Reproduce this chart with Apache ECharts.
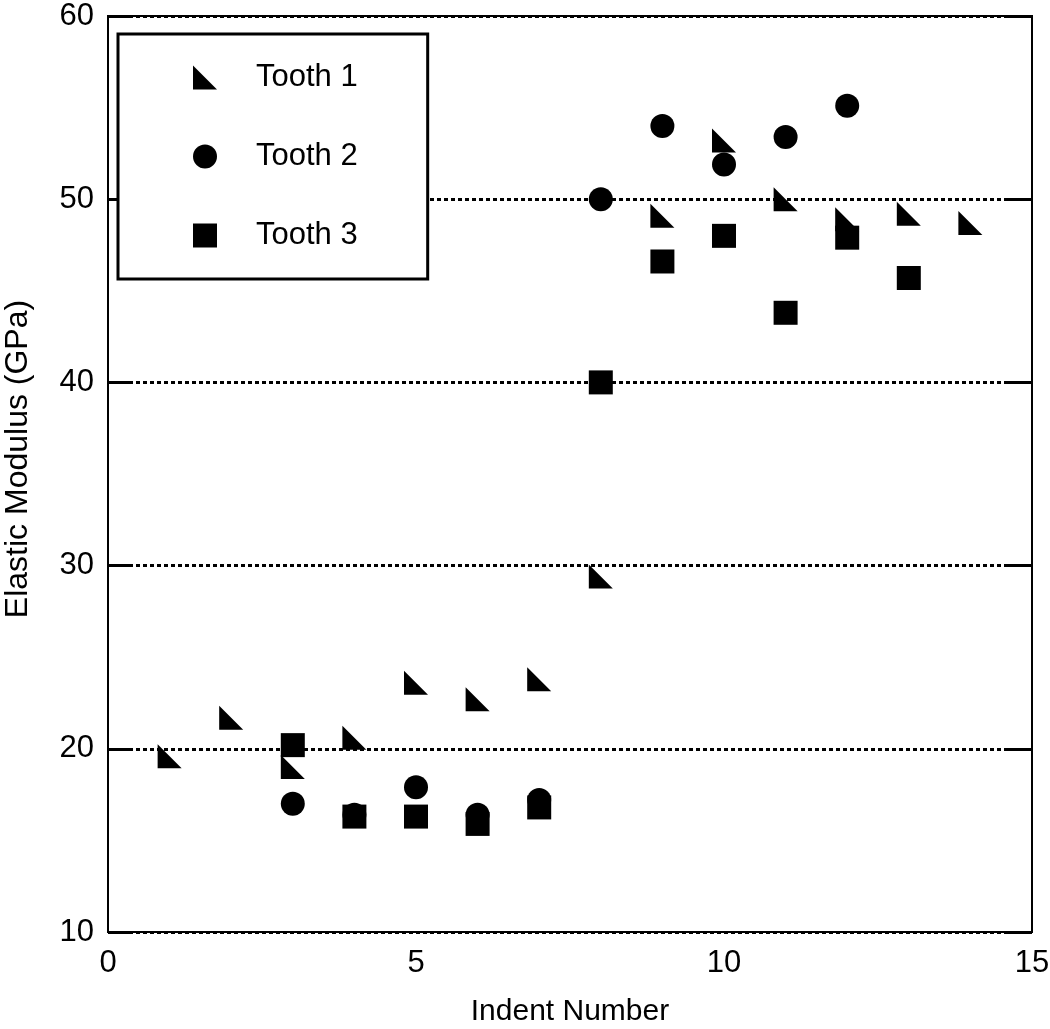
<!DOCTYPE html>
<html>
<head>
<meta charset="utf-8">
<script src="https://cdn.jsdelivr.net/npm/echarts@6/dist/echarts.min.js"></script>
<style>
  html, body { margin: 0; padding: 0; background: #fff; }
  #chart { width: 1050px; height: 1029px; }
</style>
</head>
<body>
<div id="chart"></div>
<script>
// indent number vs elastic modulus, one array per tooth
const tooth1X = [1, 2, 3, 4, 5, 6, 7, 8, 9, 10, 11, 12, 13, 14]
const tooth1Y = [19.6, 21.7, 19.0, 20.6, 23.6, 22.7, 23.8, 29.4, 49.1, 53.2, 50.0, 48.9, 49.2, 48.7]

const tooth2X = [3, 4, 5, 6, 7, 8, 9, 10, 11, 12]
const tooth2Y = [17.0, 16.4, 17.9, 16.4, 17.2, 50.0, 54.0, 51.9, 53.4, 55.1]

const tooth3X = [3, 4, 5, 6, 7, 8, 9, 10, 11, 12, 13]
const tooth3Y = [20.2, 16.3, 16.3, 15.9, 16.8, 40.0, 46.6, 48.0, 43.8, 47.9, 45.7]

const seriesNames = ['Tooth 1', 'Tooth 2', 'Tooth 3']
const xTicks = { min: 0, max: 15, interval: 5 }
const yTicks = { min: 10, max: 60, interval: 10 }

const FONT = "'Liberation Sans', Arial, Helvetica, sans-serif"
const TRIANGLE = 'path://M0,0L0,10L10,10Z'

const zip = (xs, ys) => xs.map((x, i) => [x, ys[i]])

const chart = echarts.init(document.getElementById('chart'))

const option = {
  animation: false,
  backgroundColor: '#fff',
  grid: {
    left: 108, right: 18, top: 16, bottom: 97,
    outerBoundsMode: 'none',
    containLabel: false,
    show: true,
    borderColor: '#000',
    borderWidth: 2,
  },
  legend: {
    orient: 'vertical',
    left: 118,
    top: 34,
    padding: [28, 70, 28, 75],
    itemWidth: 24,
    itemHeight: 24,
    itemGap: 48,
    borderColor: '#000',
    borderWidth: 3,
    borderRadius: 0,
    backgroundColor: '#fff',
    textStyle: { fontFamily: FONT, fontSize: 31, color: '#000', padding: [0, 0, 0, 34] },
    data: [
      { name: seriesNames[0], icon: TRIANGLE },
      { name: seriesNames[1], icon: 'circle' },
      { name: seriesNames[2], icon: 'rect' },
    ],
  },
  xAxis: {
    type: 'value',
    min: xTicks.min, max: xTicks.max, interval: xTicks.interval,
    name: 'Indent Number',
    nameLocation: 'middle',
    nameGap: 65,
    nameTextStyle: { fontFamily: FONT, fontSize: 30, color: '#000' },
    axisLine: { show: false },
    axisTick: { show: false },
    splitLine: { show: false },
    axisLabel: { fontFamily: FONT, fontSize: 31, color: '#000', margin: 16 },
  },
  yAxis: [
    {
      type: 'value',
      min: yTicks.min, max: yTicks.max, interval: yTicks.interval,
      name: 'Elastic Modulus (GPa)',
      nameLocation: 'middle',
      nameGap: 74,
      nameTextStyle: { fontFamily: FONT, fontSize: 32, color: '#000', padding: [0, 0, 0, 30] },
      axisLine: { show: false },
      axisTick: { show: true, inside: true, length: 24, lineStyle: { color: '#000', width: 3 } },
      splitLine: { show: true, lineStyle: { color: '#000', width: 3, type: [4, 3] } },
      axisLabel: { fontFamily: FONT, fontSize: 31, color: '#000', margin: 14 },
    },
    {
      type: 'value',
      position: 'right',
      min: yTicks.min, max: yTicks.max, interval: yTicks.interval,
      axisLine: { show: false },
      axisTick: { show: true, inside: true, length: 24, lineStyle: { color: '#000', width: 3 } },
      splitLine: { show: false },
      axisLabel: { show: false },
    },
  ],
  series: [
    {
      name: seriesNames[0],
      type: 'scatter',
      symbol: TRIANGLE,
      symbolSize: 24,
      itemStyle: { color: '#000', opacity: 1 },
      data: zip(tooth1X, tooth1Y),
      z: 3,
    },
    {
      name: seriesNames[1],
      type: 'scatter',
      symbol: 'circle',
      symbolSize: 24,
      itemStyle: { color: '#000', opacity: 1 },
      data: zip(tooth2X, tooth2Y),
      z: 3,
    },
    {
      name: seriesNames[2],
      type: 'scatter',
      symbol: 'rect',
      symbolSize: 24,
      itemStyle: { color: '#000', opacity: 1 },
      data: zip(tooth3X, tooth3Y),
      z: 3,
    },
  ],
}

option && chart.setOption(option)
</script>
</body>
</html>
